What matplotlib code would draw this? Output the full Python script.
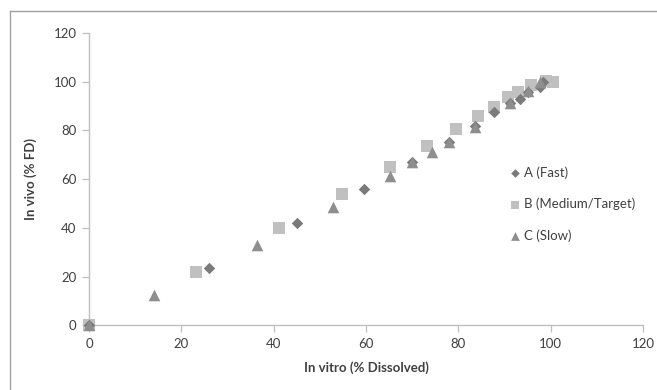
import matplotlib

matplotlib.use("Agg")
import matplotlib.pyplot as plt
from matplotlib.lines import Line2D

plt.rcParams["font.family"] = ["Lato", "DejaVu Sans"]

# In vitro (% dissolved) vs in vivo (% FD) for the three formulations
a_x = [0, 26, 45, 59.5, 70, 77.9, 83.6, 87.7, 91.2, 93.3, 95.1, 97.6, 98.3]
a_y = [0, 23.5, 41.8, 55.8, 66.8, 75.2, 81.6, 87.3, 91.0, 92.8, 95.8, 97.8, 99.8]

b_x = [0, 23.1, 41.1, 54.7, 65.2, 73.2, 79.6, 84.2, 87.8, 90.8, 93.0, 95.8, 99.0, 100.4]
b_y = [0, 22.0, 39.7, 53.7, 65.1, 73.7, 80.5, 86.0, 89.6, 93.5, 95.7, 98.5, 100.4, 99.8]

c_x = [0, 14.1, 36.4, 52.9, 65.2, 70, 74.2, 77.9, 83.6, 91.2, 95.1, 97.6]
c_y = [0, 12.4, 32.9, 48.6, 61.3, 66.8, 71.1, 75.2, 81.2, 91.0, 96.0, 99.6]

labels = ["A (Fast)", "B (Medium/Target)", "C (Slow)"]
ticks = [0, 20, 40, 60, 80, 100, 120]

AXC = "#bfbfbf"
TXT = "#404040"
FS = 9.5

fig = plt.figure(figsize=(6.57, 3.90), dpi=100)
ax = fig.add_axes([0.1355, 0.166, 0.8432, 0.750])

ax.scatter(b_x, b_y, marker="s", s=70, color="#c0c0c0", lw=0, label=labels[1], zorder=2)
ax.scatter(a_x, a_y, marker="D", s=34, color="#7a7a7a", lw=0, label=labels[0], zorder=3)
ax.scatter(c_x, c_y, marker="^", s=70, color="#8e8e8e", lw=0, label=labels[2], zorder=4)

ax.set_xlim(0, 120)
ax.set_ylim(0, 120)
ax.set_xticks(ticks)
ax.set_yticks(ticks)
ax.tick_params(length=5, width=0.9, color=AXC, labelsize=FS, labelcolor=TXT, pad=4)
for s in ("top", "right"):
    ax.spines[s].set_visible(False)
for s in ("left", "bottom"):
    ax.spines[s].set_color(AXC)
    ax.spines[s].set_linewidth(1.0)
for coll in ax.collections:
    coll.set_clip_on(False)

ax.set_xlabel("In vitro (% Dissolved)", fontsize=FS, fontweight="bold", color=TXT, labelpad=8)
ax.set_ylabel("In vivo (% FD)", fontsize=FS, fontweight="bold", color=TXT, labelpad=12)

h, l = ax.get_legend_handles_labels()
order = [l.index(x) for x in labels]
ax.legend([h[i] for i in order], [l[i] for i in order], loc="upper left",
          bbox_to_anchor=(0.735, 0.585), frameon=False, fontsize=FS,
          labelspacing=1.45, handletextpad=0.2, handlelength=1.0,
          markerscale=0.75, labelcolor=TXT)

# chart border (top and left edges visible in crop)
fig.add_artist(Line2D([10 / 657, 1.0], [1 - 11 / 390, 1 - 11 / 390],
                      transform=fig.transFigure, color="#a0a0a0", lw=1.0))
fig.add_artist(Line2D([10 / 657, 10 / 657], [0.0, 1 - 11 / 390],
                      transform=fig.transFigure, color="#a0a0a0", lw=1.0))

fig.savefig("out.png", dpi=100)
